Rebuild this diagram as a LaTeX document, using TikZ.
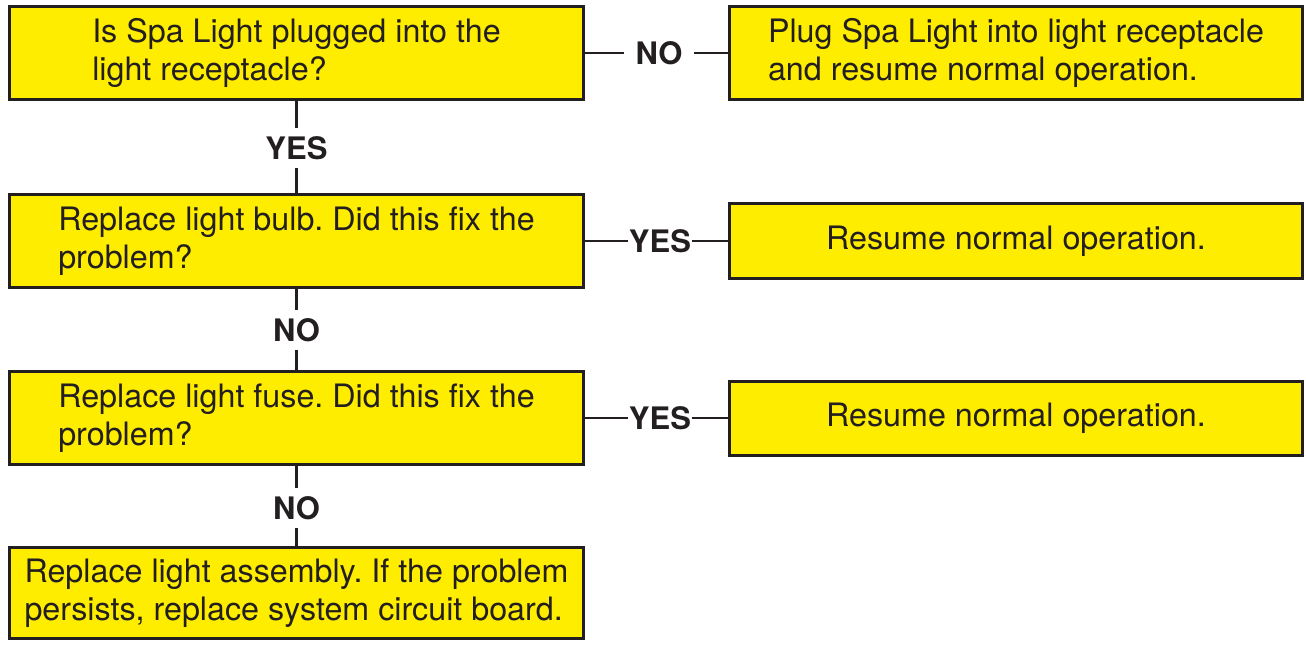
\documentclass[tikz,border=0pt]{standalone}
\usepackage{fontspec}
\setmainfont{TeX Gyre Heros}
\frenchspacing
\definecolor{boxfill}{HTML}{FFED00}
\definecolor{ink}{HTML}{231F20}
\begin{document}
\begin{tikzpicture}[x=0.75pt,y=-0.75pt,
  box/.style={draw=ink,fill=boxfill,line width=2.25pt,align=left,inner sep=0pt,
    minimum width=430.5pt,minimum height=69.75pt,
    font=\fontsize{24.2pt}{28.5pt}\selectfont,text=ink},
  ansbox/.style={box,minimum width=429.75pt},
  lbl/.style={font=\fontsize{23.25pt}{28pt}\selectfont\bfseries,text=ink,inner sep=0pt},
  vlbl/.style={lbl,inner ysep=6pt},
  conn/.style={draw=ink,line width=1.9pt}]
\useasboundingbox (0,0) rectangle (1306,644);
\node[box] (q1) at (296.5,53) {Is Spa Light plugged into the\\light receptacle?};
\node[ansbox] (a1) at (1016,53) {Plug Spa Light into light receptacle\\and resume normal operation.};
\node[box] (q2) at (296.5,241) {Replace light bulb. Did this fix the\\problem?};
\node[ansbox,minimum height=56.25pt] (a2) at (1016,241) {Resume normal operation.};
\node[box] (q3) at (296.5,418) {Replace light fuse. Did this fix the\\problem?};
\node[ansbox,minimum height=55.5pt] (a3) at (1016,418) {Resume normal operation.};
\node[box,minimum height=68.25pt] (q4) at (296.5,593) {Replace light assembly. If the problem\\persists, replace system circuit board.};
% labels
\node[lbl,inner xsep=8.5pt] (n1) at (659,53) {NO};
\node[vlbl] (y1) at (296.5,148) {YES};
\node[lbl,inner xsep=0.5pt] (y2) at (660,241) {YES};
\node[vlbl] (n2) at (296.5,330) {NO};
\node[lbl,inner xsep=0.5pt] (y3) at (660,418) {YES};
\node[vlbl] (n3) at (296.5,508) {NO};
% connectors
\draw[conn] (q1.east) -- (n1.west);
\draw[conn] (n1.east) -- (a1.west);
\draw[conn] (q1.south) -- (y1.north);
\draw[conn] (y1.south) -- (q2.north);
\draw[conn] (q2.east) -- (y2.west);
\draw[conn] (y2.east) -- (a2.west);
\draw[conn] (q2.south) -- (n2.north);
\draw[conn] (n2.south) -- (q3.north);
\draw[conn] (q3.east) -- (y3.west);
\draw[conn] (y3.east) -- (a3.west);
\draw[conn] (q3.south) -- (n3.north);
\draw[conn] (n3.south) -- (q4.north);
\end{tikzpicture}
\end{document}
